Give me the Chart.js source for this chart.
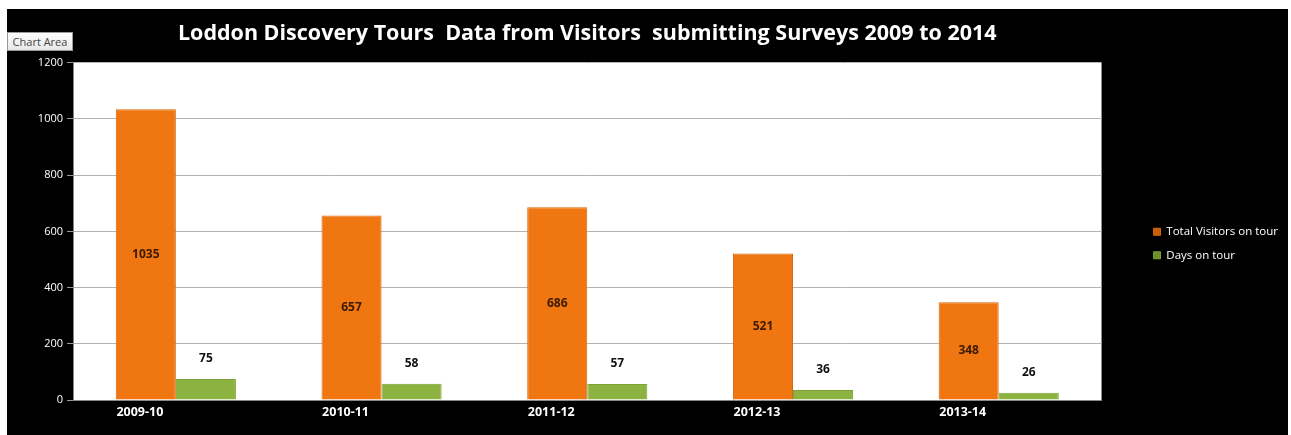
<!DOCTYPE html>
<html lang="en">
<head>
  <meta charset="UTF-8">
  <title>Loddon Discovery Tours</title>
  <script src="https://cdn.jsdelivr.net/npm/chart.js"></script>
  <style>
    body {
      margin: 0;
      background: #fff;
      font-family: "Open Sans", Arial, sans-serif;
    }
    .frame {
      position: absolute;
      left: 7px;
      top: 9px;
      width: 1281px;
      height: 426px;
      background: #000;
    }
    .tip {
      position: absolute;
      left: 7px;
      top: 32px;
      width: 66px;
      height: 19px;
      box-sizing: border-box;
      border: 1px solid #9a9a9a;
      background: linear-gradient(#ffffff, #e6e6e6);
      color: #444;
      font: 11px "Open Sans", Arial, sans-serif;
      line-height: 17px;
      text-align: center;
      z-index: 2;
    }
  </style>
</head>
<body>
  <div class="frame">
    <canvas id="chart" width="1281" height="426"></canvas>
  </div>
  <div class="tip">Chart Area</div>

  <script>
    // values
    const seasons = ['2009-10', '2010-11', '2011-12', '2012-13', '2013-14'];
    const totalVisitors = [1035, 657, 686, 521, 348];
    const daysOnTour = [75, 58, 57, 36, 26];
    const yTicks = [0, 200, 400, 600, 800, 1000, 1200];

    const FONT = '"Open Sans", Arial, sans-serif';

    // value labels: inside the orange bars, above the green ones
    const valueLabels = {
      id: 'valueLabels',
      afterDatasetsDraw(chart) {
        const ctx = chart.ctx;
        ctx.save();
        ctx.font = 'bold 12px ' + FONT;
        ctx.textAlign = 'center';
        ctx.textBaseline = 'middle';
        chart.getDatasetMeta(0).data.forEach((bar, i) => {
          ctx.fillStyle = '#3b1a02';
          ctx.fillText(totalVisitors[i], bar.x, (bar.y + bar.base) / 2);
        });
        chart.getDatasetMeta(1).data.forEach((bar, i) => {
          ctx.fillStyle = '#111';
          ctx.fillText(daysOnTour[i], bar.x, bar.y - 20);
        });
        ctx.restore();
      }
    };

    // white plot area
    const plotBg = {
      id: 'plotBg',
      beforeDraw(chart) {
        const a = chart.chartArea;
        chart.ctx.save();
        chart.ctx.fillStyle = '#fff';
        chart.ctx.fillRect(a.left, a.top, a.right - a.left, a.bottom - a.top);
        chart.ctx.restore();
      }
    };

    function barFill(base, dark) {
      return (c) => {
        const bar = c.element;
        if (!bar || bar.x === undefined || isNaN(bar.x)) return base;
        const w = bar.width || 60;
        const g = c.chart.ctx.createLinearGradient(bar.x - w / 2, 0, bar.x + w / 2, 0);
        g.addColorStop(0, dark);
        g.addColorStop(0.08, base);
        g.addColorStop(0.9, base);
        g.addColorStop(1, dark);
        return g;
      };
    }

    new Chart(document.getElementById('chart'), {
      type: 'bar',
      data: {
        labels: seasons,
        datasets: [{
          label: 'Total Visitors on tour',
          data: totalVisitors,
          backgroundColor: barFill('#ef7611', '#c85d08'),
          borderColor: '#d9680c',
          borderWidth: 1,
          barPercentage: 1,
          categoryPercentage: 0.584
        }, {
          label: 'Days on tour',
          data: daysOnTour,
          backgroundColor: barFill('#8cb33f', '#6c8f2a'),
          borderColor: '#7ea236',
          borderWidth: 1,
          barPercentage: 1,
          categoryPercentage: 0.584
        }]
      },
      options: {
        responsive: false,
        animation: false,
        layout: {
          padding: { left: 0, right: 0, top: 0, bottom: 10 }
        },
        plugins: {
          title: {
            display: true,
            text: 'Loddon Discovery Tours  Data from Visitors  submitting Surveys 2009 to 2014',
            color: '#fff',
            fullSize: false,
            font: { family: FONT, size: 21.5, weight: 'bold' },
            padding: { top: 12, bottom: 16 }
          },
          legend: {
            position: 'right',
            title: {
              display: true,
              text: ' ',
              font: { size: 10 },
              padding: { top: 41, bottom: 0 }
            },
            labels: {
              color: '#fff',
              boxWidth: 7,
              boxHeight: 7,
              padding: 12,
              font: { family: FONT, size: 11.5 }
            }
          },
          tooltip: { enabled: false }
        },
        scales: {
          x: {
            grid: { display: false, drawTicks: false },
            border: { color: '#888' },
            ticks: {
              color: '#fff',
              padding: 5,
              labelOffset: -36,
              font: { family: FONT, size: 12.5, weight: 'bold' }
            }
          },
          y: {
            min: yTicks[0],
            max: yTicks[yTicks.length - 1],
            afterBuildTicks: (axis) => { axis.ticks = yTicks.map(v => ({ value: v })); },
            afterFit: (axis) => { axis.width = 66; },
            grid: { color: '#b4b4b4', tickColor: '#9a9a9a', tickLength: 6 },
            border: { color: '#888' },
            ticks: {
              color: '#fff',
              padding: 4,
              callback: (v) => String(v),
              font: { family: FONT, size: 11 }
            }
          },
          // empty spacer between plot and legend
          gap: {
            type: 'linear',
            position: 'right',
            display: true,
            grid: { display: false },
            border: { display: false },
            ticks: { display: false },
            afterFit: (axis) => { axis.width = 40; }
          }
        }
      },
      plugins: [plotBg, valueLabels]
    });
  </script>
</body>
</html>
